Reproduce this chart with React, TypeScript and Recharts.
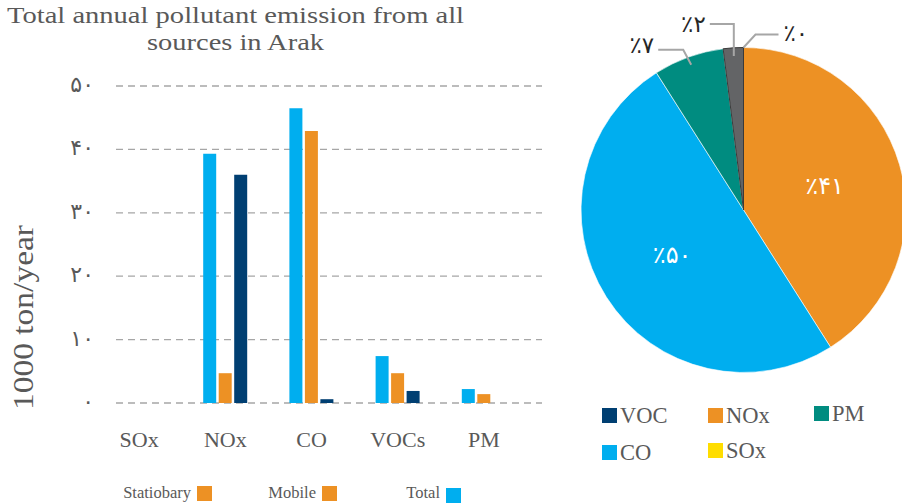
import React from 'react';
import { BarChart, Bar, XAxis, YAxis, CartesianGrid, PieChart, Pie, Cell } from 'recharts';

// ---- data ----
const categories = ['SOx', 'NOx', 'CO', 'VOCs', 'PM'];
const totalValues = [0, 39.3, 46.5, 7.4, 2.2];
const mobileValues = [0, 4.7, 42.9, 4.7, 1.4];
const stationaryValues = [0, 36.0, 0.6, 1.9, 0];
const yTicks = [0, 10, 20, 30, 40, 50];

const pieNames = ['NOx', 'CO', 'PM', 'VOC', 'SOx'];
const pieShares = [41, 50, 7, 2, 0];

const barLegendLabels = ['Statiobary', 'Mobile', 'Total'];
const pieLegendNames = ['VOC', 'NOx', 'PM', 'CO', 'SOx'];

const titleLines = ['Total annual pollutant emission from all', 'sources in Arak'];
const yAxisTitle = '1000 ton/year';

// ---- styles ----
const BLUE = '#00AEEF';
const ORANGE = '#ED9124';
const NAVY = '#003F72';
const TEAL = '#008C80';
const GRAY = '#636466';
const YELLOW = '#FFDD00';
const TEXT = '#595959';
const SERIF = "'Liberation Serif', 'Times New Roman', serif";
const PERSIAN_FONT = "'DejaVu Sans', sans-serif";

const pieColors: Record<string, string> = { NOx: ORANGE, CO: BLUE, PM: TEAL, VOC: GRAY, SOx: YELLOW };
const pieLegendColors: Record<string, string> = { VOC: NAVY, NOx: ORANGE, PM: TEAL, CO: BLUE, SOx: YELLOW };
const barLegendColors = [ORANGE, ORANGE, BLUE];

const barData = categories.map((c, i) => ({
  category: c,
  total: totalValues[i],
  mobile: mobileValues[i],
  stationary: stationaryValues[i],
}));
const pieData = pieNames.map((n, i) => ({ name: n, value: pieShares[i] }));

const PERSIAN = '۰۱۲۳۴۵۶۷۸۹';
const toPersian = (n: number | string) => String(n).replace(/\d/g, (d) => PERSIAN[+d]);

const XTick = (props: any) => {
  const { x, y, payload } = props;
  return (
    <text x={x} y={y + 44} textAnchor="middle" fontFamily={SERIF} fontSize={22} fill={TEXT}>
      {payload.value}
    </text>
  );
};

const YTick = (props: any) => {
  const { x, y, payload } = props;
  return (
    <text x={x} y={y + 6} textAnchor="end" fontFamily={PERSIAN_FONT} fontSize={22} fill={TEXT}>
      {toPersian(payload.value)}
    </text>
  );
};

const RAD = Math.PI / 180;
const polar = (cx: number, cy: number, r: number, a: number) => ({
  x: cx + r * Math.cos(-a * RAD),
  y: cy + r * Math.sin(-a * RAD),
});

// leader geometry for small slices: radius factor, elbow offset, horizontal run, text offset
const leaderLayout: Record<string, { rf: number; ex: number; ey: number; run: number; tdx: number; tdy: number }> = {
  PM: { rf: 0.95, ex: -8, ey: -15, run: -25, tdx: -4, tdy: -5 },
  VOC: { rf: 0.95, ex: 0, ey: -32, run: -24, tdx: -4, tdy: 0 },
  SOx: { rf: 1.0, ex: 12, ey: -13, run: 23, tdx: 5, tdy: -1.5 },
};

const renderPieLabel = (props: any) => {
  const { cx, cy, midAngle, outerRadius, name, value } = props;
  const txt = '٪' + toPersian(value);
  const lay = leaderLayout[name];
  if (!lay) {
    const p = polar(cx, cy, outerRadius * 0.52, midAngle);
    return (
      <text x={p.x} y={p.y} textAnchor="middle" dominantBaseline="central" fontFamily={PERSIAN_FONT} fontSize={24} fill="#ffffff">
        {txt}
      </text>
    );
  }
  const a = polar(cx, cy, outerRadius * lay.rf, midAngle);
  const e = { x: a.x + lay.ex, y: a.y + lay.ey };
  const h = { x: e.x + lay.run, y: e.y };
  return (
    <g>
      <polyline points={`${a.x},${a.y} ${e.x},${e.y} ${h.x},${h.y}`} fill="none" stroke="#A6A6A6" strokeWidth={2} />
      <text
        x={h.x + lay.tdx}
        y={h.y + lay.tdy}
        textAnchor={lay.run < 0 ? 'end' : 'start'}
        dominantBaseline="central"
        fontFamily={PERSIAN_FONT}
        fontSize={23}
        fill="#262626"
      >
        {txt}
      </text>
    </g>
  );
};

// overlay layout
const barLegendSquares = [
  { x: 197, y: 486 },
  { x: 322, y: 486 },
  { x: 446, y: 488 },
];
const pieLegendPos = [
  { x: 602, y: 408 },
  { x: 708, y: 408 },
  { x: 814, y: 406 },
  { x: 602, y: 445 },
  { x: 708, y: 443 },
];
const titleWidths = [457, 177];

export default function App() {
  return (
    <div style={{ position: 'absolute', left: 0, top: 0, width: 902, height: 503, background: '#fff', overflow: 'hidden' }}>
      <div style={{ position: 'absolute', left: 0, top: 0 }}>
        <BarChart width={560} height={503} data={barData} margin={{ top: 86, right: 33, left: 0, bottom: 70 }} barSize={13} barGap={2.5}>
          <CartesianGrid vertical={false} x={116} width={426} stroke="#A6A6A6" strokeDasharray="7 5" strokeWidth={1.3} />
          <XAxis dataKey="category" axisLine={false} tickLine={false} tickSize={0} tickMargin={0} height={30} interval={0} tick={<XTick />} />
          <YAxis
            domain={[0, 50]}
            ticks={yTicks}
            width={96}
            axisLine={false}
            tickLine={false}
            tickSize={0}
            tickMargin={2}
            tick={<YTick />}
          />
          <Bar dataKey="total" name="Total" fill={BLUE} isAnimationActive={false} />
          <Bar dataKey="mobile" name="Mobile" fill={ORANGE} isAnimationActive={false} />
          <Bar dataKey="stationary" name="Stationary" fill={NAVY} isAnimationActive={false} />
        </BarChart>
      </div>
      <div style={{ position: 'absolute', left: 560, top: 0 }}>
        <PieChart width={342} height={503} margin={{ top: 0, right: 0, bottom: 0, left: 0 }}>
          <Pie
            data={pieData}
            dataKey="value"
            nameKey="name"
            cx={183.5}
            cy={210}
            outerRadius={162.5}
            startAngle={90}
            endAngle={-270}
            isAnimationActive={false}
            label={renderPieLabel}
            labelLine={false}
          >
            {pieData.map((d) => (
              <Cell key={d.name} fill={pieColors[d.name]} stroke={d.name === 'VOC' ? '#3a3a3a' : '#ffffff'} strokeWidth={d.name === 'VOC' ? 1 : 0.6} />
            ))}
          </Pie>
        </PieChart>
      </div>
      <svg width={902} height={503} style={{ position: 'absolute', left: 0, top: 0, pointerEvents: 'none' }}>
        {titleLines.map((t, i) => (
          <text
            key={t}
            x={235.5}
            y={23 + i * 27}
            textAnchor="middle"
            fontFamily={SERIF}
            fontSize={24}
            fill={TEXT}
            textLength={titleWidths[i]}
            lengthAdjust="spacingAndGlyphs"
          >
            {t}
          </text>
        ))}
        <text
          x={33}
          y={317.5}
          transform="rotate(-90 33 317.5)"
          textAnchor="middle"
          fontFamily={SERIF}
          fontSize={29}
          fill={TEXT}
          textLength={185}
          lengthAdjust="spacingAndGlyphs"
        >
          {yAxisTitle}
        </text>
        {barLegendLabels.map((l, i) => (
          <g key={l}>
            <text x={barLegendSquares[i].x - 6} y={498} textAnchor="end" fontFamily={SERIF} fontSize={16.5} fill={TEXT}>
              {l}
            </text>
            <rect x={barLegendSquares[i].x} y={barLegendSquares[i].y} width={15} height={15} fill={barLegendColors[i]} />
          </g>
        ))}
        {pieLegendNames.map((n, i) => (
          <g key={n}>
            <rect x={pieLegendPos[i].x} y={pieLegendPos[i].y} width={15} height={15} fill={pieLegendColors[n]} />
            <text x={pieLegendPos[i].x + 18} y={pieLegendPos[i].y + 15} fontFamily={SERIF} fontSize={22.5} fill={TEXT}>
              {n}
            </text>
          </g>
        ))}
      </svg>
    </div>
  );
}
